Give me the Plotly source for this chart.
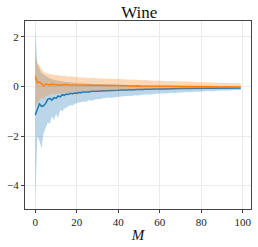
import plotly.graph_objects as go

M = list(range(100))

blue_mean = [
-1.15, -0.95, -0.70, -0.80, -0.78, -0.68, -0.52, -0.48, -0.55, -0.45,
-0.48, -0.38, -0.42, -0.33, -0.36, -0.30, -0.32, -0.27, -0.29, -0.26,
-0.27, -0.24, -0.25, -0.22, -0.23, -0.21, -0.22, -0.19, -0.20, -0.19,
-0.19, -0.18, -0.18, -0.17, -0.18, -0.16, -0.17, -0.16, -0.15, -0.16,
-0.15, -0.14, -0.15, -0.14, -0.14, -0.13, -0.14, -0.13, -0.13, -0.12,
-0.13, -0.12, -0.12, -0.11, -0.12, -0.11, -0.11, -0.10, -0.11, -0.10,
-0.10, -0.10, -0.09, -0.10, -0.09, -0.09, -0.09, -0.08, -0.09, -0.08,
-0.08, -0.08, -0.08, -0.07, -0.08, -0.07, -0.08, -0.07, -0.07, -0.07,
-0.07, -0.07, -0.06, -0.07, -0.06, -0.07, -0.06, -0.06, -0.07, -0.06,
-0.06, -0.06, -0.05, -0.06, -0.06, -0.05, -0.06, -0.05, -0.06, -0.06]

blue_upper = [
2.30, 0.95, 0.72, 0.55, 0.50, 0.42, 0.38, 0.32, 0.28, 0.27,
0.25, 0.23, 0.21, 0.22, 0.19, 0.18, 0.18, 0.16, 0.15, 0.15,
0.14, 0.14, 0.13, 0.13, 0.12, 0.12, 0.11, 0.11, 0.10, 0.10,
0.10, 0.09, 0.09, 0.09, 0.08, 0.08, 0.08, 0.08, 0.07, 0.07,
0.07, 0.07, 0.06, 0.07, 0.06, 0.06, 0.06, 0.05, 0.06, 0.05,
0.05, 0.05, 0.05, 0.04, 0.05, 0.04, 0.04, 0.04, 0.04, 0.04,
0.03, 0.04, 0.03, 0.03, 0.03, 0.03, 0.03, 0.02, 0.03, 0.02,
0.02, 0.02, 0.02, 0.02, 0.02, 0.02, 0.01, 0.02, 0.01, 0.02,
0.01, 0.01, 0.01, 0.01, 0.01, 0.00, 0.01, 0.01, 0.00, 0.01,
0.00, 0.00, 0.01, 0.00, 0.00, 0.00, 0.00, 0.01, 0.00, 0.00]

blue_lower = [
-4.60, -2.00, -2.20, -2.50, -1.90, -1.70, -1.45, -1.50, -1.20, -1.35,
-1.10, -1.25, -0.95, -1.00, -0.90, -0.85, -0.80, -0.75, -0.78, -0.70,
-0.68, -0.65, -0.62, -0.60, -0.63, -0.58, -0.55, -0.57, -0.53, -0.52,
-0.50, -0.51, -0.48, -0.47, -0.49, -0.45, -0.44, -0.46, -0.43, -0.42,
-0.41, -0.42, -0.40, -0.39, -0.40, -0.37, -0.38, -0.36, -0.35, -0.36,
-0.34, -0.35, -0.33, -0.32, -0.33, -0.31, -0.32, -0.30, -0.29, -0.30,
-0.28, -0.29, -0.27, -0.28, -0.26, -0.27, -0.25, -0.26, -0.25, -0.24,
-0.25, -0.23, -0.24, -0.22, -0.23, -0.22, -0.21, -0.22, -0.20, -0.21,
-0.20, -0.19, -0.20, -0.19, -0.18, -0.19, -0.18, -0.17, -0.18, -0.17,
-0.16, -0.17, -0.16, -0.15, -0.16, -0.15, -0.15, -0.14, -0.15, -0.14]

orange_mean = [
0.40, 0.15, 0.18, 0.12, 0.02, 0.10, 0.08, 0.06, 0.09, 0.07,
0.08, 0.06, 0.07, 0.05, 0.08, 0.06, 0.07, 0.06, 0.06, 0.05,
0.06, 0.05, 0.06, 0.05, 0.05, 0.04, 0.05, 0.05, 0.04, 0.05,
0.04, 0.04, 0.05, 0.04, 0.04, 0.03, 0.04, 0.04, 0.03, 0.04,
0.03, 0.03, 0.04, 0.03, 0.03, 0.03, 0.02, 0.03, 0.03, 0.02,
0.03, 0.02, 0.02, 0.02, 0.02, 0.01, 0.02, 0.02, 0.01, 0.02,
0.01, 0.01, 0.02, 0.01, 0.01, 0.01, 0.01, 0.00, 0.01, 0.01,
0.00, 0.01, 0.00, 0.00, 0.01, 0.00, 0.00, 0.00, -0.01, 0.00,
0.00, -0.01, 0.00, -0.01, -0.01, 0.00, -0.01, -0.01, -0.01, -0.02,
-0.01, -0.01, -0.02, -0.01, -0.02, -0.02, -0.01, -0.02, -0.02, -0.02]

orange_upper = [
1.22, 0.95, 0.85, 0.70, 0.60, 0.55, 0.52, 0.50, 0.48, 0.46,
0.47, 0.44, 0.45, 0.42, 0.43, 0.41, 0.40, 0.41, 0.39, 0.38,
0.38, 0.37, 0.36, 0.37, 0.35, 0.36, 0.34, 0.35, 0.34, 0.33,
0.34, 0.32, 0.33, 0.32, 0.31, 0.32, 0.30, 0.31, 0.30, 0.31,
0.29, 0.30, 0.29, 0.28, 0.29, 0.28, 0.27, 0.28, 0.27, 0.26,
0.27, 0.26, 0.25, 0.26, 0.25, 0.24, 0.25, 0.24, 0.23, 0.24,
0.23, 0.22, 0.23, 0.22, 0.21, 0.22, 0.21, 0.20, 0.21, 0.20,
0.20, 0.19, 0.20, 0.19, 0.18, 0.19, 0.18, 0.18, 0.17, 0.18,
0.17, 0.17, 0.16, 0.17, 0.16, 0.16, 0.15, 0.16, 0.15, 0.15,
0.14, 0.15, 0.14, 0.14, 0.13, 0.14, 0.13, 0.13, 0.13, 0.12]

orange_lower = [
-0.80, -0.65, -0.55, -0.45, -0.50, -0.38, -0.35, -0.33, -0.30, -0.32,
-0.29, -0.28, -0.29, -0.26, -0.27, -0.25, -0.26, -0.24, -0.25, -0.23,
-0.24, -0.22, -0.23, -0.22, -0.21, -0.22, -0.20, -0.21, -0.20, -0.19,
-0.20, -0.19, -0.18, -0.19, -0.18, -0.17, -0.18, -0.17, -0.17, -0.16,
-0.17, -0.16, -0.16, -0.15, -0.16, -0.15, -0.15, -0.14, -0.15, -0.14,
-0.14, -0.14, -0.13, -0.14, -0.13, -0.13, -0.12, -0.13, -0.12, -0.12,
-0.12, -0.11, -0.12, -0.11, -0.11, -0.11, -0.10, -0.11, -0.10, -0.10,
-0.10, -0.10, -0.09, -0.10, -0.09, -0.09, -0.09, -0.09, -0.08, -0.09,
-0.08, -0.08, -0.08, -0.08, -0.07, -0.08, -0.07, -0.07, -0.07, -0.07,
-0.07, -0.06, -0.07, -0.06, -0.06, -0.06, -0.06, -0.06, -0.05, -0.06]

x_ticks = [0, 20, 40, 60, 80, 100]
y_ticks = [-4, -2, 0, 2]

BLUE = "#1f77b4"
ORANGE = "#ff7f0e"

fig = go.Figure()
for mean, up, lo, col, fillc in [
    (blue_mean, blue_upper, blue_lower, BLUE, "rgba(31,119,180,0.3)"),
    (orange_mean, orange_upper, orange_lower, ORANGE, "rgba(255,127,14,0.3)"),
]:
    fig.add_trace(go.Scatter(x=M, y=up, mode="lines", line=dict(width=0, color=fillc),
                             showlegend=False, hoverinfo="skip"))
    fig.add_trace(go.Scatter(x=M, y=lo, mode="lines", line=dict(width=0, color=fillc),
                             fill="tonexty", fillcolor=fillc, showlegend=False, hoverinfo="skip"))
    fig.add_trace(go.Scatter(x=M, y=mean, mode="lines", line=dict(width=1.5, color=col),
                             showlegend=False))

font_family = "Liberation Serif, Times New Roman, serif"
fig.update_layout(
    width=258, height=247,
    margin=dict(l=25, r=7, t=21, b=38),
    paper_bgcolor="white", plot_bgcolor="white",
    font=dict(family=font_family, size=11, color="#222"),
    title=dict(text="Wine", x=0.54, xanchor="center", y=0.95, yanchor="middle",
               font=dict(family=font_family, size=17, color="#111")),
)
fig.update_xaxes(
    range=[-4.95, 103.95], tickvals=x_ticks, ticks="outside", ticklen=3, tickcolor="#444",
    showline=True, linecolor="#444", linewidth=1, mirror=True,
    showgrid=True, gridcolor="#ebebeb", gridwidth=1, zeroline=False,
    title=dict(text="<i>M</i>", font=dict(family=font_family, size=15, color="#111"), standoff=2),
)
fig.update_yaxes(
    range=[-4.945, 2.645], tickvals=y_ticks, ticks="outside", ticklen=3, tickcolor="#444",
    showline=True, linecolor="#444", linewidth=1, mirror=True,
    showgrid=True, gridcolor="#ebebeb", gridwidth=1, zeroline=False,
)

fig.write_html("out.html", config={"displayModeBar": False},
               post_script="document.body.style.margin='0';document.body.style.overflow='hidden';")
